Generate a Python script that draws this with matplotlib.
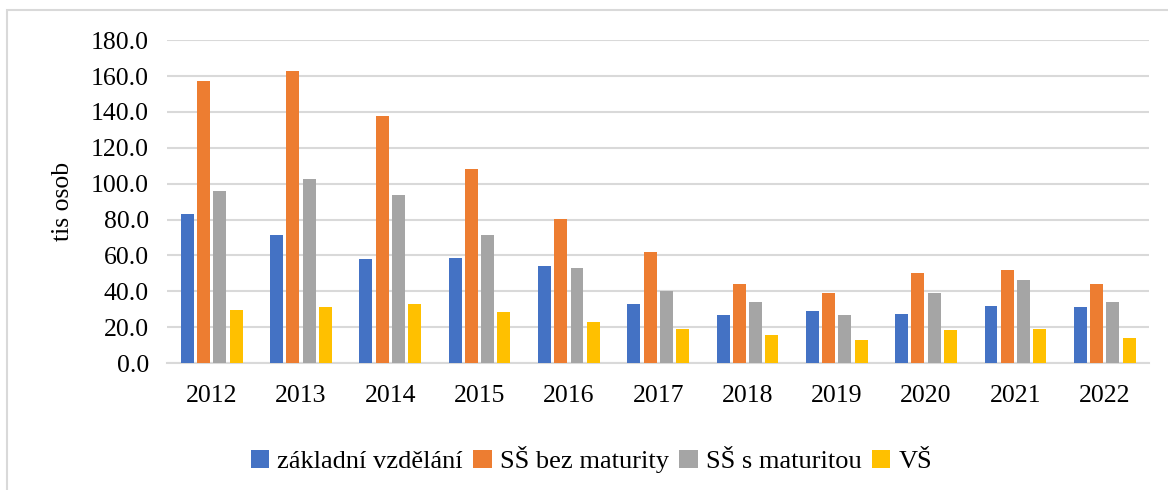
import numpy as np
import matplotlib
matplotlib.use('Agg')
import matplotlib.pyplot as plt
from matplotlib.patches import Rectangle

years = ['2012', '2013', '2014', '2015', '2016', '2017', '2018', '2019', '2020', '2021', '2022']
zakladni = [82.9, 71.2, 57.8, 58.4, 53.9, 33.1, 26.8, 28.8, 27.3, 31.6, 31.2]
ss_bez = [157.3, 162.9, 138.0, 108.4, 80.3, 61.7, 44.3, 39.3, 50.2, 52.1, 44.3]
ss_s = [95.8, 102.6, 93.9, 71.6, 53.2, 40.2, 33.9, 27.0, 39.3, 46.3, 33.9]
vs = [29.8, 31.1, 33.1, 28.4, 23.1, 18.8, 15.6, 12.8, 18.4, 18.8, 13.8]

series = [
    ('základní vzdělání', zakladni, '#4472C4'),
    ('SŠ bez maturity', ss_bez, '#ED7D31'),
    ('SŠ s maturitou', ss_s, '#A5A5A5'),
    ('VŠ', vs, '#FFC000'),
]

plt.rcParams['font.family'] = ['Liberation Serif', 'DejaVu Serif']

fig = plt.figure(figsize=(11.68, 4.9), dpi=100)
ax = fig.add_axes([0.143, 0.259, 0.841, 0.659])

x = np.arange(len(years))
pitch = 0.182
width = 0.145
for k, (name, vals, col) in enumerate(series):
    ax.bar(x + (k - 1.5) * pitch, vals, width, color=col, label=name, zorder=3)

ax.set_xlim(-0.5, len(years) - 0.5)
ax.set_ylim(0, 180)
ax.set_yticks(np.arange(0, 181, 20))
ax.set_yticklabels([f'{v:.1f}' for v in np.arange(0, 181, 20)])
ax.set_xticks(x)
ax.set_xticklabels(years)
ax.tick_params(axis='both', length=0, labelsize=18.5)
ax.tick_params(axis='x', pad=16)
ax.tick_params(axis='y', pad=13)
ax.grid(axis='y', color='#d9d9d9', linewidth=1.5, zorder=0)
for s in ['top', 'right', 'left']:
    ax.spines[s].set_visible(False)
ax.spines['bottom'].set_color('#d9d9d9')
ax.spines['bottom'].set_linewidth(1.5)
ax.set_ylabel('tis osob', fontsize=18.5, labelpad=12)

ax.legend(loc='center', bbox_to_anchor=(0.432, -0.3), bbox_transform=ax.transAxes,
          ncol=4, frameon=False, prop={'family': 'Liberation Serif', 'size': 19},
          handlelength=0.7, handleheight=0.7, handletextpad=0.3, columnspacing=0.4)

# outer chart border (only left and top edges visible in the crop)
fig.patches.append(Rectangle((7 / 1168, -0.1), 1.2, 1 - 10 / 490 + 0.1, transform=fig.transFigure,
                             fill=False, edgecolor='#d9d9d9', linewidth=1.5))

fig.savefig('out.png', dpi=100)
